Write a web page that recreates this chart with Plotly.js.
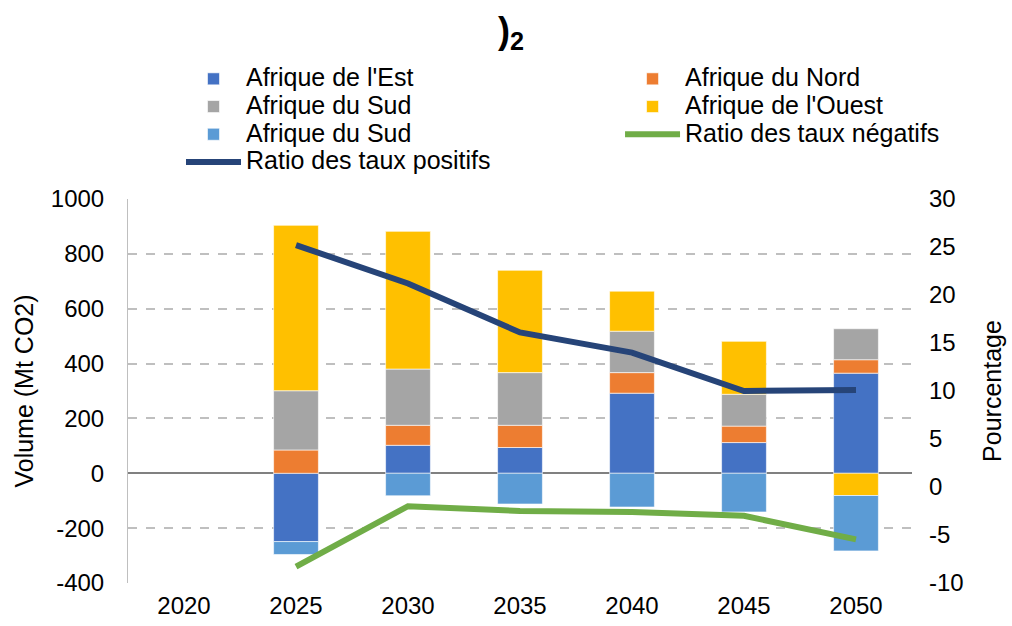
<!DOCTYPE html>
<html><head><meta charset="utf-8">
<script src="https://cdn.plot.ly/plotly-3.0.1.min.js"></script>
<style>body{margin:0;padding:0;background:#fff}#chart{width:1012px;height:626px}</style>
</head><body><div id="chart"></div>
<script>
const years = ['2020','2025','2030','2035','2040','2045','2050'];
const afriqueEst = [null, -249, 102, 94, 292, 112, 365];
const afriqueNord = [null, 85, 73, 81, 75, 60, 49];
const afriqueSudGris = [null, 216, 205, 192, 151, 116, 113];
const afriqueOuest = [null, 603, 502, 373, 146, 193, -81];
const afriqueSudBleu = [null, -47, -82, -112, -123, -141, -202];
const ratioNegatifs = [null, -8.3, -2.0, -2.5, -2.6, -3.0, -5.45];
const ratioPositifs = [null, 25.2, 21.2, 16.1, 14.0, 10.0, 10.1];
const volumeTicks = [-400, -200, 0, 200, 400, 600, 800, 1000];
const volumeTickText = ['-400', '-200', '0', '200', '400', '600', '800', '1000'];
const pctTicks = [-10, -5, 0, 5, 10, 15, 20, 25, 30];
const pctTickText = ['-10', '-5', '0', '5', '10', '15', '20', '25', '30'];

const font = 'Liberation Sans, Arial, sans-serif';
const big = s => '<span style="font-size:25px">' + s + '</span>';
const bl = {color:'rgba(255,255,255,0.6)', width:1};
const traces = [
  {type:'bar', name:big("Afrique de l'Est"), x:years, y:afriqueEst, marker:{color:'#4472C4', line:bl}, legend:'legend'},
  {type:'bar', name:big('Afrique du Nord'), x:years, y:afriqueNord, marker:{color:'#ED7D31', line:bl}, legend:'legend2'},
  {type:'bar', name:big('Afrique du Sud'), x:years, y:afriqueSudGris, marker:{color:'#A5A5A5', line:bl}, legend:'legend'},
  {type:'bar', name:big("Afrique de l'Ouest"), x:years, y:afriqueOuest, marker:{color:'#FFC000', line:bl}, legend:'legend2'},
  {type:'bar', name:big('Afrique du Sud'), x:years, y:afriqueSudBleu, marker:{color:'#5B9BD5', line:bl}, legend:'legend'},
  {type:'scatter', mode:'lines', name:big('Ratio des taux négatifs'), x:years, y:ratioNegatifs, yaxis:'y2', line:{color:'#70AD47', width:6}, legend:'legend2'},
  {type:'scatter', mode:'lines', name:big('Ratio des taux positifs'), x:years, y:ratioPositifs, yaxis:'y2', line:{color:'#264478', width:6}, legend:'legend'}
];
const legBase = {orientation:'v', xref:'paper', yref:'paper', xanchor:'left', yanchor:'top',
  itemwidth:55, font:{family:font, size:19, color:'#000'}, traceorder:'normal', tracegroupgap:0,
  bgcolor:'rgba(0,0,0,0)', borderwidth:0};
const layout = {
  width:1012, height:626,
  margin:{l:128, r:100, t:199, b:43},
  paper_bgcolor:'#fff', plot_bgcolor:'#fff',
  font:{family:font, size:24, color:'#000'},
  title:{text:')<sub>2</sub>', font:{family:font, size:36, color:'#000', weight:'bold'}, x:0.505, xanchor:'center', xref:'container', yref:'container', y:0.952, yanchor:'middle'},
  barmode:'relative', bargap:0.6,
  showlegend:true,
  legend:Object.assign({}, legBase, {x:0.0676, y:1.362}),
  legend2:Object.assign({}, legBase, {x:0.6276, y:1.362}),
  xaxis:{type:'category', tickfont:{size:24}, showgrid:false, showline:false, ticks:'', zeroline:false, ticklabelstandoff:6},
  yaxis:{range:[-400,1000], tickvals:volumeTicks, ticktext:volumeTickText, showgrid:true, gridcolor:'#BFBFBF', griddash:'dash', gridwidth:1.5,
         zeroline:true, zerolinecolor:'#808080', zerolinewidth:2, showline:true, linecolor:'#BFBFBF', linewidth:1, ticks:'',
         ticklabelstandoff:18,
         title:{text:'Volume (Mt CO2)', font:{size:25}, standoff:10}, tickfont:{size:24}},
  yaxis2:{range:[-10,30], tickvals:pctTicks, ticktext:pctTickText, overlaying:'y', side:'right', showgrid:false, zeroline:false, showline:false, ticks:'',
          ticklabelstandoff:16,
          title:{text:'Pourcentage', font:{size:25}, standoff:20}, tickfont:{size:24}}
};
Plotly.newPlot('chart', traces, layout, {displayModeBar:false});
</script></body></html>
